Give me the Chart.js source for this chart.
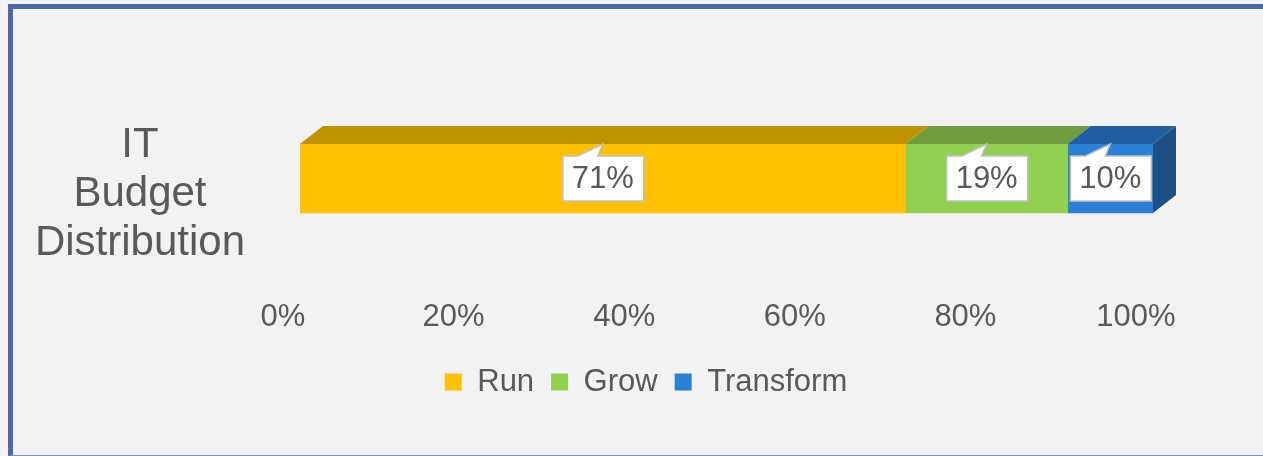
<!DOCTYPE html>
<html>
<head>
<meta charset="utf-8">
<script src="https://cdn.jsdelivr.net/npm/chart.js@4.4.1/dist/chart.umd.min.js"></script>
<style>
  html, body { margin: 0; padding: 0; background: #f2f2f2; }
  #wrap { position: relative; width: 1263px; height: 456px; overflow: hidden; }
  #frame {
    position: absolute; left: 8px; top: 4px; width: 1300px; height: 446px;
    border-left: 5px solid #4868ad; border-top: 5px solid #4868ad; border-bottom: 1px solid #7d90c2;
  }
  #chart { position: absolute; left: 0; top: 0; }
</style>
</head>
<body>
<div id="wrap">
  <div id="frame"></div>
  <canvas id="chart" width="1263" height="456"></canvas>
</div>
<script>
// chart data
const categories = [['IT', 'Budget', 'Distribution']];
const seriesNames = ['Run', 'Grow', 'Transform'];
const runValues = [71];
const growValues = [19];
const transformValues = [10];

// colours: front face, top face, side face
const frontColors = ['#ffc000', '#92d050', '#2a80d5'];
const topColors = ['#c09100', '#6f9c3c', '#1f5fa1'];
const sideColors = ['#a87f00', '#5d8432', '#1c4f86'];

const FONT = "'Liberation Sans', Arial, sans-serif";
const TEXT = '#595959';
const DEPTH_X = 23, DEPTH_Y = 18;
const LEGEND_CENTER = 646;

// fake 3D: top face for every segment, side face on the last one
const depthPlugin = {
    id: 'depth',
    afterDatasetsDraw(chart) {
        const ctx = chart.ctx;
        let last = null;
        chart.data.datasets.forEach((ds, i) => {
            const meta = chart.getDatasetMeta(i);
            meta.data.forEach(bar => {
                const left = Math.min(bar.base, bar.x), right = Math.max(bar.base, bar.x);
                const top = bar.y - bar.height / 2, bottom = bar.y + bar.height / 2;
                ctx.save();
                ctx.fillStyle = topColors[i];
                ctx.beginPath();
                ctx.moveTo(left, top);
                ctx.lineTo(left + DEPTH_X, top - DEPTH_Y);
                ctx.lineTo(right + DEPTH_X, top - DEPTH_Y);
                ctx.lineTo(right, top);
                ctx.closePath();
                ctx.fill();
                ctx.restore();
                if (!last || right >= last.right) last = { i, right, top, bottom };
            });
        });
        if (last) {
            ctx.save();
            ctx.fillStyle = sideColors[last.i];
            ctx.beginPath();
            ctx.moveTo(last.right, last.top);
            ctx.lineTo(last.right + DEPTH_X, last.top - DEPTH_Y);
            ctx.lineTo(last.right + DEPTH_X, last.bottom - DEPTH_Y);
            ctx.lineTo(last.right, last.bottom);
            ctx.closePath();
            ctx.fill();
            ctx.restore();
        }
    }
};

// callout data labels
const calloutPlugin = {
    id: 'callouts',
    afterDatasetsDraw(chart) {
        const ctx = chart.ctx;
        chart.data.datasets.forEach((ds, i) => {
            const meta = chart.getDatasetMeta(i);
            meta.data.forEach((bar, j) => {
                const cx = (bar.base + bar.x) / 2;
                const barTop = bar.y - bar.height / 2;
                const bx = cx - 40, bw = 81, by = barTop + 12, bh = 45;
                ctx.save();
                ctx.fillStyle = '#ffffff';
                ctx.strokeStyle = '#bfbfbf';
                ctx.lineWidth = 1.5;
                ctx.beginPath();
                ctx.moveTo(bx, by);
                ctx.lineTo(cx - 25, by);
                ctx.lineTo(cx, barTop);
                ctx.lineTo(cx - 5, by);
                ctx.lineTo(bx + bw, by);
                ctx.lineTo(bx + bw, by + bh);
                ctx.lineTo(bx, by + bh);
                ctx.closePath();
                ctx.fill();
                ctx.stroke();
                ctx.fillStyle = TEXT;
                ctx.font = '31px ' + FONT;
                ctx.textAlign = 'center';
                ctx.textBaseline = 'middle';
                ctx.fillText(ds.data[j] + '%', cx, by + bh / 2 + 1);
                ctx.restore();
            });
        });
    }
};

// the legend sits under the whole chart in the original, not under the plot area
const legendShift = {
    id: 'legendShift',
    afterLayout(chart) {
        const lg = chart.legend;
        if (!lg) return;
        const dx = LEGEND_CENTER - (lg.left + lg.right) / 2;
        lg.left += dx;
        lg.right += dx;
    }
};

const seriesValues = [runValues, growValues, transformValues];

new Chart(document.getElementById('chart'), {
    type: 'bar',
    data: {
        labels: categories,
        datasets: seriesNames.map((name, i) => ({
            label: name,
            data: seriesValues[i],
            backgroundColor: frontColors[i],
            borderWidth: 0,
            barThickness: 69
        }))
    },
    options: {
        indexAxis: 'y',
        responsive: false,
        animation: false,
        layout: { padding: { left: 0, right: 110, top: 100, bottom: 48.5 } },
        scales: {
            x: {
                stacked: true,
                min: 0,
                max: 100,
                grid: { display: false },
                border: { display: false },
                ticks: {
                    stepSize: 20,
                    callback: v => v + '%',
                    color: TEXT,
                    font: { family: FONT, size: 31 },
                    padding: 34,
                    labelOffset: -17,
                    maxRotation: 0
                },
                afterFit(axis) {
                    axis.height = 92.5;
                    axis.paddingLeft = 0;
                    axis.paddingRight = 0;
                }
            },
            y: {
                stacked: true,
                grid: { display: false },
                border: { display: false },
                ticks: {
                    color: TEXT,
                    font: { family: FONT, size: 42, lineHeight: 1.167 },
                    crossAlign: 'center',
                    padding: 47,
                    labelOffset: 15.5
                },
                afterFit(axis) {
                    axis.width = 300;
                    axis.paddingTop = 0;
                    axis.paddingBottom = 0;
                }
            }
        },
        plugins: {
            legend: {
                position: 'bottom',
                labels: {
                    boxWidth: 17,
                    boxHeight: 17,
                    padding: 17,
                    color: TEXT,
                    font: { family: FONT, size: 31 }
                }
            },
            tooltip: { enabled: false }
        }
    },
    plugins: [depthPlugin, calloutPlugin, legendShift]
});
</script>
</body>
</html>
